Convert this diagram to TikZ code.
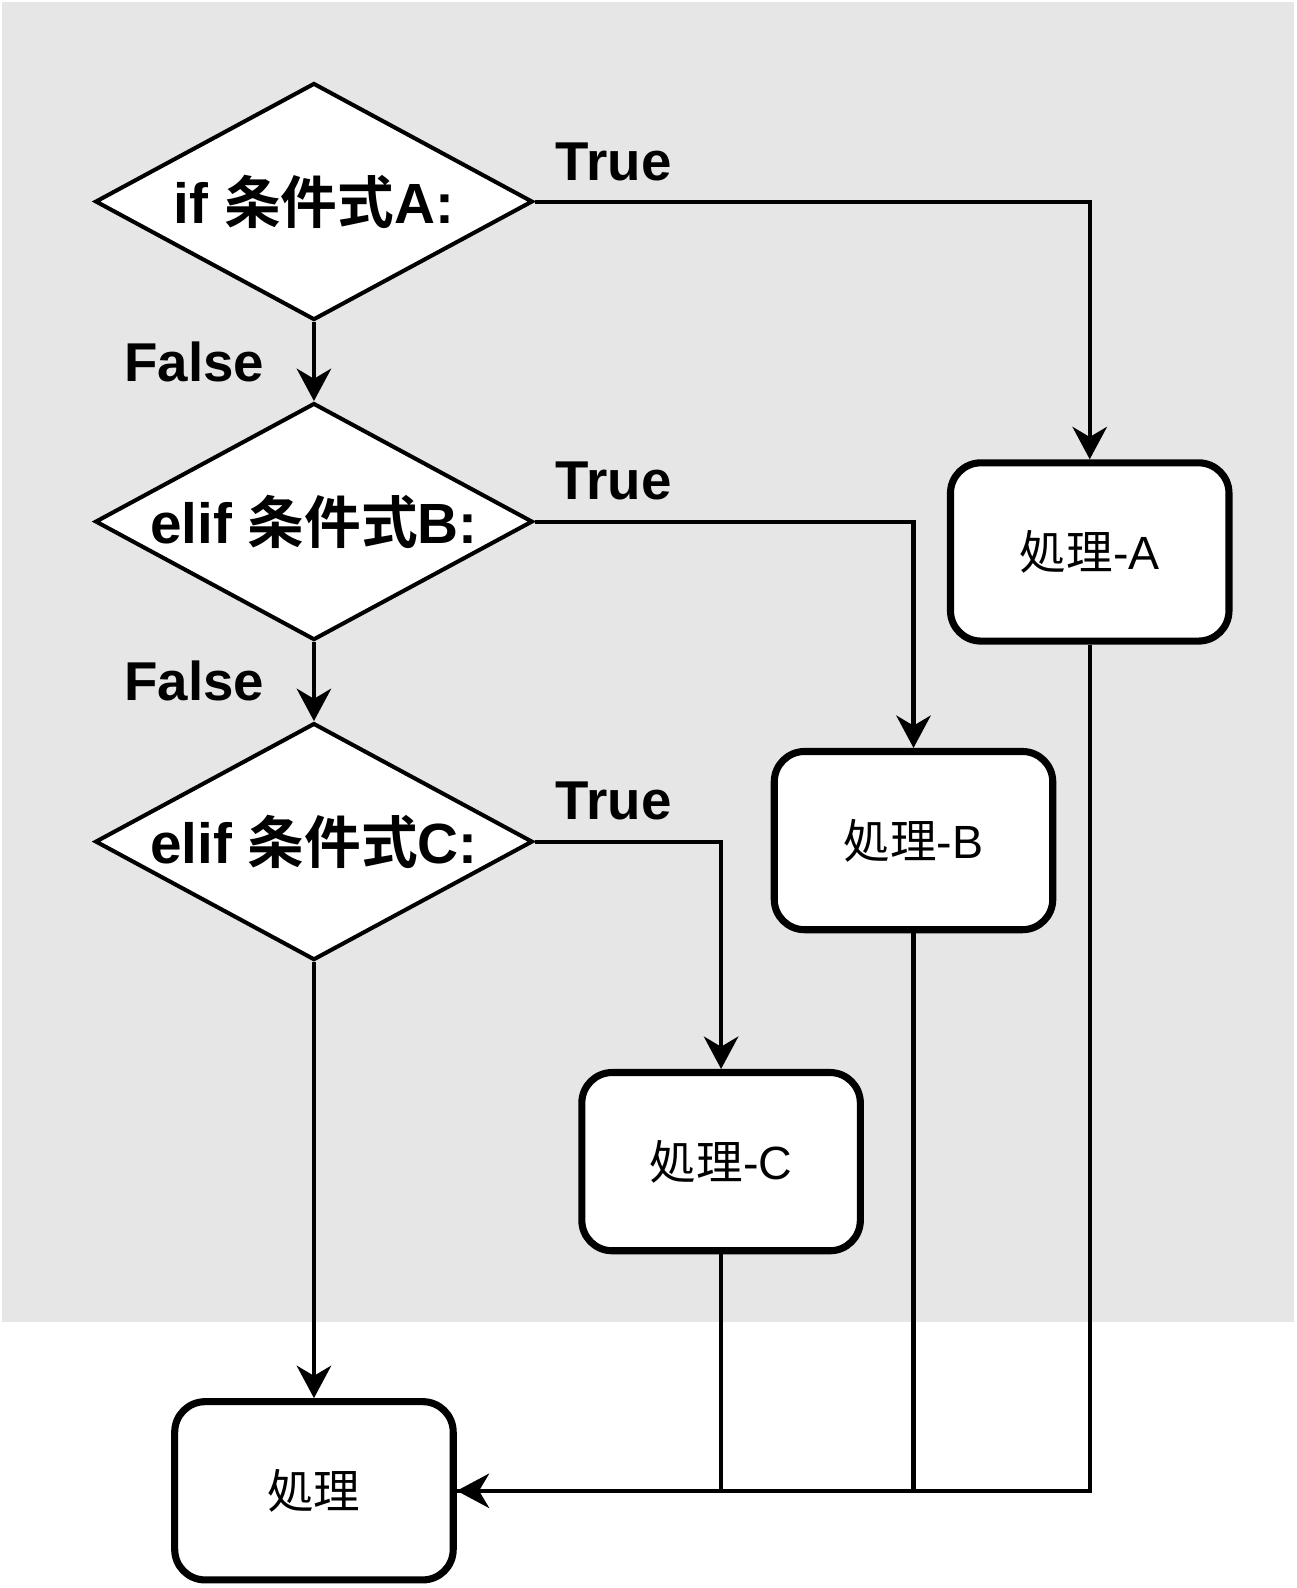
\documentclass[tikz,border=0pt]{standalone}
\usepackage{fontspec}
\setmainfont{Liberation Sans}
\newfontfamily\cjk{Noto Sans CJK JP}[BoldFont={Noto Sans CJK JP Bold}]
\usetikzlibrary{shapes.geometric}
\usetikzlibrary{arrows.meta}
\definecolor{bggray}{HTML}{E6E6E6}

\begin{document}
\begin{tikzpicture}[x=0.5pt,y=-0.5pt]
\tikzset{cond/.style={draw,diamond,fill=white,line width=2pt,aspect=1.84,
        minimum width=216pt,minimum height=117pt,inner sep=0pt,
        font=\fontsize{28pt}{28pt}\selectfont\bfseries}
}
\tikzset{proc/.style={draw,rectangle,rounded corners=15pt,fill=white,line width=3.5pt,
        minimum width=137.5pt,minimum height=88pt,
        font=\fontsize{23pt}{23pt}\selectfont}
}
\tikzset{branch/.style={font=\fontsize{27pt}{27pt}\selectfont\bfseries}}
\tikzset{flow/.style={line width=2pt,-{Stealth[length=16pt,width=17pt,inset=5pt]}}}

\useasboundingbox (0,0) rectangle (1280,1568);
\fill[bggray] (2,2) rectangle (1278,1305);

\node[cond] (condA) at (310,199) {if {\cjk 条件式}A:};
\node[cond] (condB) at (310,515) {elif {\cjk 条件式}B:};
\node[cond] (condC) at (310,831) {elif {\cjk 条件式}C:};

\node[proc] (procA) at (1076,545) {{\cjk 処理}-A};
\node[proc] (procB) at (902,830) {{\cjk 処理}-B};
\node[proc] (procC) at (712,1147) {{\cjk 処理}-C};
\node[proc] (procEnd) at (310,1472) {{\cjk 処理}};

\node[branch] (trueA) at (606,160) {True};
\node[branch] (trueB) at (606,475) {True};
\node[branch] (trueC) at (606,791) {True};
\node[branch] (falseA) at (192,357) {False};
\node[branch] (falseB) at (192,672) {False};

\draw[flow] (condA.south) -- (condB.north);
\draw[flow] (condB.south) -- (condC.north);
\draw[flow] (condC.south) -- (procEnd.north);

\draw[flow] (condA.east) -| (procA.north);
\draw[flow] (condB.east) -| (procB.north);
\draw[flow] (condC.east) -| (procC.north);

\draw[line width=2pt] (procC.south) |- (procEnd.east);
\draw[line width=2pt] (procB.south) |- (procEnd.east);
\draw[flow] (procA.south) |- (procEnd.east);
\end{tikzpicture}
\end{document}
